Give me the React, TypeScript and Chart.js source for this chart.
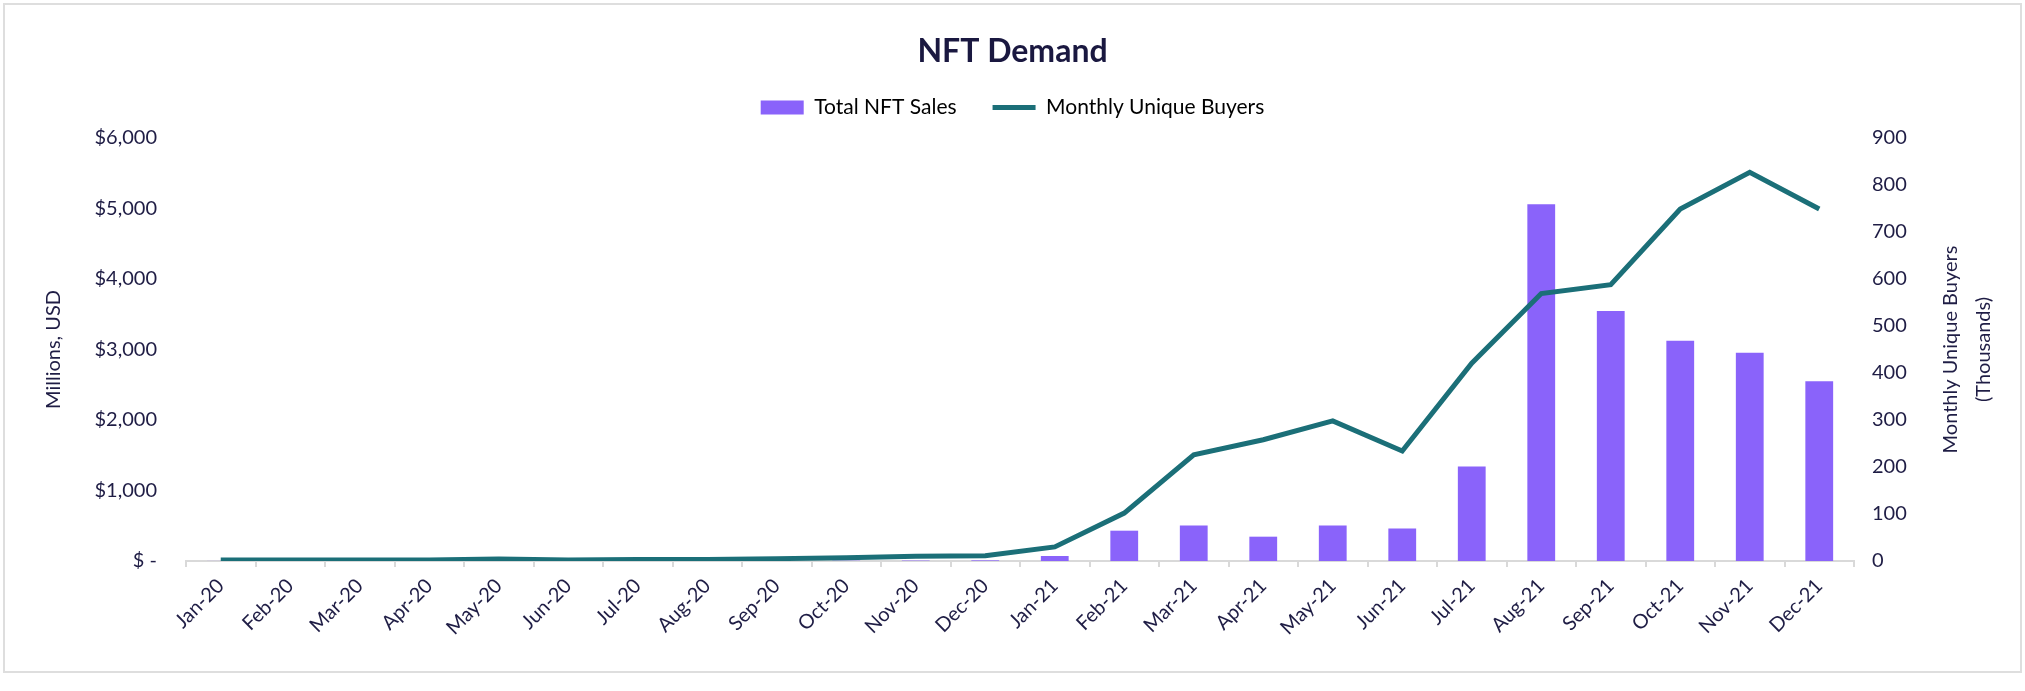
import React, { useEffect, useRef } from 'react';
import { Chart, registerables } from 'chart.js';

Chart.register(...registerables);

const months = [
  'Jan-20', 'Feb-20', 'Mar-20', 'Apr-20', 'May-20', 'Jun-20', 'Jul-20', 'Aug-20', 'Sep-20', 'Oct-20', 'Nov-20', 'Dec-20',
  'Jan-21', 'Feb-21', 'Mar-21', 'Apr-21', 'May-21', 'Jun-21', 'Jul-21', 'Aug-21', 'Sep-21', 'Oct-21', 'Nov-21', 'Dec-21',
];

// Millions USD
const totalNftSales = [
  1, 1, 1, 1, 2, 2, 2, 3, 3, 4, 6, 9,
  71, 430, 505, 345, 505, 460, 1340, 5060, 3545, 3125, 2955, 2550,
];

// Thousands
const monthlyUniqueBuyers = [
  2, 2, 2, 2, 4, 2, 3, 3, 5, 7, 10, 11,
  30, 102, 226, 258, 298, 234, 421, 569, 588, 749, 827, 749,
];

const salesTickLabels = ['$ -', '$1,000', '$2,000', '$3,000', '$4,000', '$5,000', '$6,000'];
const buyersTickLabels = ['0', '100', '200', '300', '400', '500', '600', '700', '800', '900'];

const TEXT = '#1f1d45';
const TITLE = '#1a1840';
const BAR = '#8a63fa';
const LINE = '#1b6f78';
const AXIS = '#d9d9d9';
const FONT = 'Lato, "Noto Sans", sans-serif';

const rightTitlePlugin = {
  id: 'rightTitle',
  afterDraw(chart: any) {
    const s = chart.scales.y1;
    const ctx = chart.ctx;
    ctx.save();
    ctx.fillStyle = TEXT;
    ctx.font = `20px ${FONT}`;
    ctx.textAlign = 'center';
    ctx.textBaseline = 'middle';
    const cy = (chart.chartArea.top + chart.chartArea.bottom) / 2;
    ctx.translate(s.left + 97, cy);
    ctx.rotate(-Math.PI / 2);
    ctx.fillText('Monthly Unique Buyers', 0, 0);
    ctx.fillText('(Thousands)', 0, 33);
    ctx.restore();
  },
};

export default function App() {
  const ref = useRef<HTMLCanvasElement | null>(null);

  useEffect(() => {
    if (!ref.current) return;
    const chart = new Chart(ref.current, {
      type: 'bar',
      data: {
        labels: months,
        datasets: [
          {
            type: 'line',
            label: 'Monthly Unique Buyers',
            data: monthlyUniqueBuyers,
            yAxisID: 'y1',
            borderColor: LINE,
            backgroundColor: LINE,
            borderWidth: 5,
            pointRadius: 0,
            tension: 0,
            order: 0,
          } as any,
          {
            type: 'bar',
            label: 'Total NFT Sales',
            data: totalNftSales,
            yAxisID: 'y',
            backgroundColor: BAR,
            categoryPercentage: 1,
            barPercentage: 0.4,
            order: 1,
          } as any,
        ],
      },
      options: {
        responsive: false,
        maintainAspectRatio: false,
        animation: false,
        layout: { padding: 0 },
        plugins: {
          title: {
            display: true,
            text: 'NFT Demand',
            color: TITLE,
            font: { family: FONT, size: 32, weight: 'bold', lineHeight: 0.6 },
            padding: { top: 34, bottom: 0 },
            weight: 2000,
          },
          // empty spacer between the legend and the plot area
          subtitle: {
            display: true,
            text: '',
            font: { family: FONT, size: 10, lineHeight: 1 },
            padding: { top: 0, bottom: 0 },
            weight: 1500,
          },
          legend: {
            display: true,
            position: 'top',
            weight: 1750,
            labels: {
              usePointStyle: true,
              pointStyleWidth: 43,
              boxHeight: 14,
              padding: 36,
              color: TEXT,
              font: { family: FONT, size: 21 },
              generateLabels: () => [
                {
                  text: 'Total NFT Sales',
                  fillStyle: BAR,
                  strokeStyle: BAR,
                  lineWidth: 0,
                  pointStyle: 'rect',
                  datasetIndex: 1,
                  hidden: false,
                } as any,
                {
                  text: 'Monthly Unique Buyers',
                  fillStyle: LINE,
                  strokeStyle: LINE,
                  lineWidth: 5,
                  pointStyle: 'line',
                  datasetIndex: 0,
                  hidden: false,
                } as any,
              ],
            },
          },
          tooltip: { enabled: false },
        },
        scales: {
          x: {
            grid: {
              display: true,
              drawOnChartArea: false,
              drawTicks: true,
              tickLength: 6,
              color: AXIS,
              lineWidth: 2,
              offset: true,
            },
            border: { display: true, color: AXIS, width: 2 },
            ticks: {
              color: TEXT,
              font: { family: FONT, size: 20 },
              minRotation: 45,
              maxRotation: 45,
              autoSkip: false,
              padding: 7,
            },
            afterFit: (s: any) => {
              s.height = 130;
            },
          },
          y: {
            position: 'left',
            min: 0,
            max: 6000,
            ticks: {
              stepSize: 1000,
              color: TEXT,
              font: { family: FONT, size: 20 },
              padding: 29,
              callback: (_v: any, i: number) => salesTickLabels[i],
            },
            grid: { display: false, drawTicks: false },
            border: { display: false },
            title: {
              display: true,
              text: 'Millions, USD',
              color: TEXT,
              font: { family: FONT, size: 20 },
              padding: { top: 42, bottom: 0 },
            },
            afterFit: (s: any) => {
              s.width = 186;
              s.paddingTop = 138;
            },
          },
          y1: {
            position: 'right',
            min: 0,
            max: 900,
            ticks: {
              stepSize: 100,
              color: TEXT,
              font: { family: FONT, size: 20 },
              padding: 18,
              callback: (_v: any, i: number) => buyersTickLabels[i],
            },
            grid: { display: false, drawTicks: false },
            border: { display: false },
            afterFit: (s: any) => {
              s.width = 171;
            },
          },
        },
      } as any,
      plugins: [rightTitlePlugin],
    });
    return () => chart.destroy();
  }, []);

  return (
    <div style={{ position: 'absolute', left: 0, top: 0, width: 2025, height: 691, background: '#ffffff' }}>
      <div
        style={{
          position: 'absolute',
          left: 3,
          top: 3,
          width: 2019,
          height: 670,
          border: '2px solid #dedede',
          boxSizing: 'border-box',
        }}
      />
      <canvas
        ref={ref}
        width={2025}
        height={691}
        style={{ position: 'absolute', left: 0, top: 0, width: 2025, height: 691 }}
      />
    </div>
  );
}
